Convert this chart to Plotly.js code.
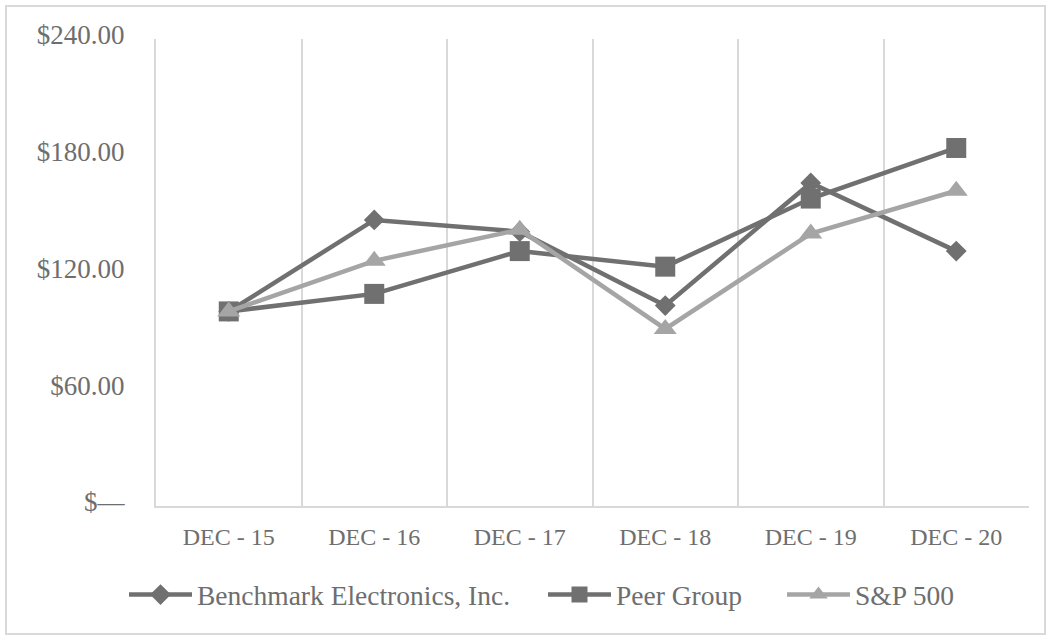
<!DOCTYPE html>
<html>
<head>
<meta charset="utf-8">
<script src="https://cdn.plot.ly/plotly-3.0.1.min.js"></script>
<style>
  html, body { margin: 0; padding: 0; background: #ffffff; }
  #wrap { position: relative; width: 1054px; height: 640px; }
  #chart { width: 1054px; height: 640px; }
  #frame { position: absolute; left: 5px; top: 5px; width: 1037px; height: 626px;
           border: 2px solid #d9d9d9; pointer-events: none; }
</style>
</head>
<body>
<div id="wrap"><div id="chart"></div><div id="frame"></div></div>
<script>
const categories = ["DEC - 15", "DEC - 16", "DEC - 17", "DEC - 18", "DEC - 19", "DEC - 20"];
const benchmark = [100, 147, 141, 103, 166, 131];
const peerGroup = [100, 109, 131, 123, 158, 184];
const sp500 = [100, 126, 142, 91, 140, 162];
const yTickVals = [0, 60, 120, 180, 240];
const yTickText = ["$\u2014", "$60.00", "$120.00", "$180.00", "$240.00"];
const seriesNames = ["Benchmark Electronics, Inc.", "Peer Group", "S&P 500"];

const dark = "#707070";
const light = "#a5a5a5";
const textColor = "#6e6e6e";

const traces = [
  { x: categories, y: benchmark, name: seriesNames[0], type: "scatter", mode: "lines+markers",
    legend: "legend",
    line: { color: dark, width: 4.5 }, marker: { symbol: "diamond", size: 16, color: dark } },
  { x: categories, y: peerGroup, name: seriesNames[1], type: "scatter", mode: "lines+markers",
    legend: "legend2",
    line: { color: dark, width: 4.5 }, marker: { symbol: "square", size: 20, color: dark } },
  { x: categories, y: sp500, name: seriesNames[2], type: "scatter", mode: "lines+markers",
    legend: "legend3",
    line: { color: light, width: 4.5 }, marker: { symbol: "triangle-up", size: 20, color: light } }
];

function legendAt(px) {
  return {
    orientation: "h", xref: "container", x: px / 1054, xanchor: "left",
    y: -0.19, yanchor: "middle",
    font: { size: 27.5, color: textColor }, itemwidth: 63,
    bgcolor: "rgba(0,0,0,0)", borderwidth: 0
  };
}

const layout = {
  width: 1054, height: 640,
  margin: { l: 156, r: 25, t: 39, b: 134, autoexpand: false },
  paper_bgcolor: "#ffffff", plot_bgcolor: "#ffffff",
  font: { family: "Liberation Serif, Times New Roman, serif", color: textColor },
  showlegend: true,
  legend: legendAt(124),
  legend2: legendAt(543),
  legend3: legendAt(782),
  xaxis: {
    type: "category", range: [-0.5, 5.5], tickson: "boundaries",
    showgrid: true, gridcolor: "#d9d9d9", gridwidth: 2,
    showline: true, linecolor: "#d9d9d9", linewidth: 2,
    ticks: "", ticklabelstandoff: 8, tickangle: 0, automargin: false,
    tickfont: { size: 24, color: textColor }, zeroline: false, fixedrange: true
  },
  yaxis: {
    range: [0, 240], tickvals: yTickVals, ticktext: yTickText,
    showgrid: false, zeroline: false, automargin: false,
    showline: true, linecolor: "#d9d9d9", linewidth: 2,
    ticks: "", ticklabelstandoff: 24, ticklabelshift: -4,
    tickfont: { size: 27, color: textColor }, fixedrange: true
  }
};

Plotly.newPlot("chart", traces, layout, { displayModeBar: false, staticPlot: true });
</script>
</body>
</html>
